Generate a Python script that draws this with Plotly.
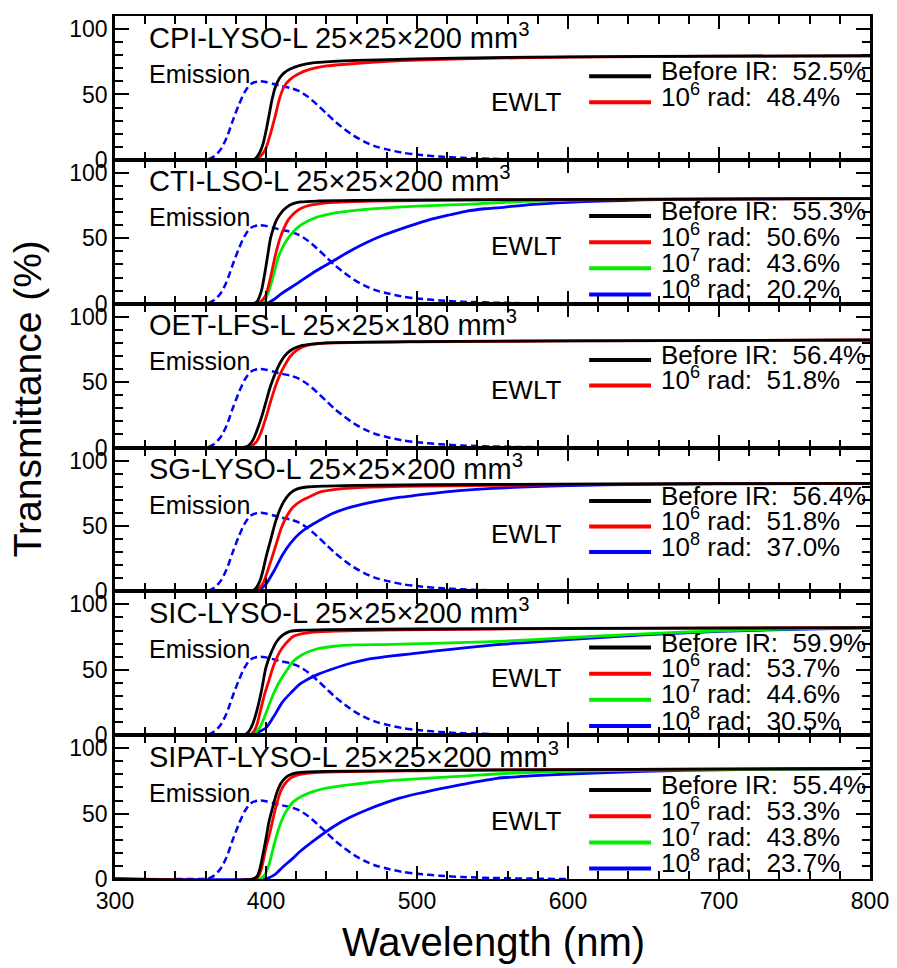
import plotly.graph_objects as go
from plotly.subplots import make_subplots

FONT = "Arial, 'Liberation Sans', Helvetica, sans-serif"

# ---------------- data ----------------
# LYSO emission spectrum (dashed blue, same in every panel)
em_nm = [340, 356, 362, 366, 370, 374, 378, 382, 386, 390, 395, 400, 405, 410, 416, 422, 428,
         434, 440, 446, 452, 458, 465, 472, 480, 490, 500, 515, 530, 550, 575, 600]
em_val = [0, 0, 0.5, 3, 8, 17, 30, 42, 52, 58, 60, 59.5, 58, 56.5, 55, 52.5, 48,
          42, 35.5, 29, 23.5, 18.5, 14, 10.5, 8, 5.5, 4, 2.5, 1.5, 0.8, 0.3, 0]

# Panel 1: CPI-LYSO-L
cpi_before_nm = [300, 390, 393, 396, 398, 400, 402, 404, 406, 409, 412, 416, 422, 430, 445, 460, 500, 550, 600, 700, 800]
cpi_before = [0, 0, 1, 6, 12, 22, 34, 46, 55, 62.5, 66.5, 69.5, 72, 74, 75.3, 76, 77.2, 78.2, 78.8, 79.3, 79.6]
cpi_1e6_nm = [300, 392, 395, 398, 400, 403, 406, 409, 412, 416, 422, 430, 440, 455, 470, 490, 530, 600, 700, 800]
cpi_1e6 = [0, 0, 1.5, 5, 9, 20, 33, 47, 56, 61.5, 66, 69.5, 71.8, 73.3, 74.5, 75.8, 77.3, 78.5, 79.2, 79.5]

# Panel 2: CTI-LSO-L
cti_before_nm = [300, 391, 394, 397, 399, 401, 403, 405, 407, 410, 414, 418, 423, 435, 460, 550, 700, 800]
cti_before = [0, 0, 1.5, 10, 22, 36, 50, 58, 64, 69.5, 74, 76.5, 77.8, 78.5, 79, 79.5, 80, 80.4]
cti_1e6_nm = [300, 394, 397, 400, 403, 406, 409, 412, 415, 419, 423, 430, 445, 470, 550, 700, 800]
cti_1e6 = [0, 0, 2, 7, 20, 36, 49, 58, 64.5, 69.5, 72.8, 75.5, 77.5, 78.5, 79.3, 80, 80.4]
cti_1e7_nm = [300, 396, 399, 402, 405, 408, 411, 414, 418, 423, 428, 434, 445, 456, 470, 490, 510, 533, 555, 580, 620, 700, 800]
cti_1e7 = [0, 0, 2, 10, 22, 35, 43, 49, 55, 60, 63.5, 66.3, 69.3, 71, 72.5, 74, 75, 76, 77.3, 78.5, 79.5, 80.2, 80.5]
cti_1e8_nm = [300, 398, 401, 405, 410, 416, 422, 433, 445, 456, 467, 478, 489, 500, 511, 522, 533, 545, 555, 575, 600, 621, 650, 690, 800]
cti_1e8 = [0, 0, 0.5, 3, 7.5, 12, 16.5, 25, 33, 40.5, 47, 52.5, 57, 61.2, 65, 68, 70.8, 72.6, 73.5, 75.8, 77.5, 78.4, 79.3, 80, 80.5]

# Panel 3: OET-LFS-L
oet_before_nm = [300, 385, 388, 391, 394, 397, 400, 403, 407, 410, 414, 418, 423, 430, 440, 500, 600, 800]
oet_before = [0, 0, 1, 5, 13, 23, 35, 47, 59, 66, 72, 75.5, 77.7, 79, 80, 81, 81.6, 82.2]
oet_1e6_nm = [300, 388, 391, 394, 397, 400, 403, 406, 409, 412, 416, 420, 425, 432, 440, 500, 600, 800]
oet_1e6 = [0, 0, 1.5, 5, 12.5, 23, 35, 46, 55, 62, 69.5, 74, 77.2, 79, 79.8, 80.8, 81.5, 82.2]

# Panel 4: SG-LYSO-L
sg_before_nm = [300, 390, 393, 396, 398, 400, 403, 406, 409, 412, 416, 420, 427, 440, 460, 550, 700, 800]
sg_before = [0, 0, 2, 8, 16, 26, 39, 52, 62, 69, 75, 78, 79.8, 80.5, 81, 81.8, 82.3, 82.5]
sg_1e6_nm = [300, 392, 395, 398, 400, 404, 407, 410, 414, 418, 423, 430, 436, 446, 456, 490, 550, 650, 800]
sg_1e6 = [0, 0, 2, 6, 12, 26, 37, 48, 58, 64.5, 69, 73, 76, 78, 79, 80.2, 81, 82, 82.5]
sg_1e8_nm = [300, 393, 396, 400, 405, 411, 416, 422, 428, 434, 444, 455, 467, 478, 489, 500, 511, 528, 550, 600, 650, 700, 800]
sg_1e8 = [0, 0, 1.5, 5.5, 15, 28, 36.5, 44, 49.3, 53.3, 59.5, 64, 67.5, 70, 72, 73.5, 75, 77, 78.8, 80.8, 81.8, 82.3, 82.5]

# Panel 5: SIC-LYSO-L
sic_before_nm = [300, 385, 388, 391, 394, 397, 400, 403, 407, 411, 416, 425, 440, 500, 600, 800]
sic_before = [0, 0, 2, 8, 19, 34, 52, 62, 71.5, 76.5, 79.4, 80.3, 80.7, 81.2, 81.7, 82.2]
sic_1e6_nm = [300, 389, 392, 394, 396, 399, 402, 405, 409, 413, 418, 425, 434, 460, 490, 600, 800]
sic_1e6 = [0, 0, 3, 8, 17, 31, 42, 53, 63.5, 70, 75.5, 77.8, 79, 80, 80.6, 81.5, 82.2]
sic_1e7_nm = [300, 390, 393, 396, 400, 404, 409, 414, 418, 424, 429, 436, 445, 460, 478, 511, 555, 600, 650, 700, 750, 800]
sic_1e7 = [0, 0, 2, 6, 17, 29, 41, 50, 56.5, 61.5, 64.2, 66.5, 68, 69, 69.3, 70.2, 71.8, 74.5, 77.5, 79.8, 81.3, 82]
sic_1e8_nm = [300, 388, 392, 396, 400, 405, 411, 417, 422, 428, 434, 445, 456, 467, 478, 489, 500, 511, 533, 553, 575, 600, 650, 700, 750, 800]
sic_1e8 = [0, 0, 1, 3, 5.5, 14, 25.5, 33, 38.7, 43, 46.3, 51, 55, 58, 59.8, 61.3, 62.8, 64.2, 67, 69.2, 71, 73, 76.7, 79.3, 81, 82]

# Panel 6: SIPAT-LYSO-L
sipat_before_nm = [300, 391, 394, 396, 398, 400, 402, 404, 407, 410, 414, 418, 423, 440, 500, 600, 800]
sipat_before = [0, 0, 2, 8, 19, 31, 44, 53, 65.5, 73.5, 78.5, 80.6, 81.6, 82.3, 83, 83.7, 84.5]
sipat_1e6_nm = [300, 392, 395, 397, 400, 402.5, 405, 407, 409.5, 412, 416, 420, 427, 440, 500, 600, 800]
sipat_1e6 = [0, 0, 2, 8, 24, 35, 47.8, 57, 66.5, 72, 77, 79.3, 80.8, 81.8, 82.8, 83.7, 84.5]
sipat_1e7_nm = [300, 396, 399, 402, 405, 408, 411.5, 414, 418, 424, 431, 440, 455, 470, 489, 510, 533, 555, 600, 650, 800]
sipat_1e7 = [0, 0, 3, 11, 24.8, 37, 47.8, 53, 59, 63.5, 66.8, 69.5, 72, 74, 75.8, 77.3, 78.9, 80.5, 82.3, 83.3, 84.5]
sipat_1e8_nm = [300, 399, 402, 406, 411.5, 417, 422.5, 433, 444.6, 455, 467, 478, 489, 500, 511, 522, 533, 543, 553, 575, 600, 650, 700, 800]
sipat_1e8 = [0, 0, 1, 3.5, 9.6, 15, 21, 30.5, 40, 46.8, 53, 57.8, 62, 65.2, 68, 70.5, 73, 75, 77, 78.8, 80.3, 82.3, 83.5, 84.5]

# Labels
panel_titles = ["CPI-LYSO-L 25×25×200 mm<sup>3</sup>",
                "CTI-LSO-L 25×25×200 mm<sup>3</sup>",
                "OET-LFS-L 25×25×180 mm<sup>3</sup>",
                "SG-LYSO-L 25×25×200 mm<sup>3</sup>",
                "SIC-LYSO-L 25×25×200 mm<sup>3</sup>",
                "SIPAT-LYSO-L 25×25×200 mm<sup>3</sup>"]
dose_labels = {"before": "Before IR:", "1e6": "10<sup>6</sup> rad:",
               "1e7": "10<sup>7</sup> rad:", "1e8": "10<sup>8</sup> rad:"}
ewlt_cpi = [52.5, 48.4]
ewlt_cti = [55.3, 50.6, 43.6, 20.2]
ewlt_oet = [56.4, 51.8]
ewlt_sg = [56.4, 51.8, 37.0]
ewlt_sic = [59.9, 53.7, 44.6, 30.5]
ewlt_sipat = [55.4, 53.3, 43.8, 23.7]

# ---------------- styling ----------------
COLORS = {"before": "#000000", "1e6": "#ff0000", "1e7": "#00ee00", "1e8": "#0000ff"}
TEXT_SHIFT = {"before": 5, "1e6": 7, "1e7": 7, "1e8": 7}

panels = [
    (panel_titles[0], [("before", cpi_before_nm, cpi_before), ("1e6", cpi_1e6_nm, cpi_1e6)], ewlt_cpi, [64, 44]),
    (panel_titles[1], [("before", cti_before_nm, cti_before), ("1e6", cti_1e6_nm, cti_1e6),
                       ("1e7", cti_1e7_nm, cti_1e7), ("1e8", cti_1e8_nm, cti_1e8)], ewlt_cti, [67, 47, 27, 7]),
    (panel_titles[2], [("before", oet_before_nm, oet_before), ("1e6", oet_1e6_nm, oet_1e6)], ewlt_oet, [67, 47.5]),
    (panel_titles[3], [("before", sg_before_nm, sg_before), ("1e6", sg_1e6_nm, sg_1e6),
                       ("1e8", sg_1e8_nm, sg_1e8)], ewlt_sg, [69, 49.5, 30]),
    (panel_titles[4], [("before", sic_before_nm, sic_before), ("1e6", sic_1e6_nm, sic_1e6),
                       ("1e7", sic_1e7_nm, sic_1e7), ("1e8", sic_1e8_nm, sic_1e8)], ewlt_sic, [67, 47, 27, 7]),
    (panel_titles[5], [("before", sipat_before_nm, sipat_before), ("1e6", sipat_1e6_nm, sipat_1e6),
                       ("1e7", sipat_1e7_nm, sipat_1e7), ("1e8", sipat_1e8_nm, sipat_1e8)], ewlt_sipat, [68, 48, 28, 8]),
]

fig = make_subplots(rows=6, cols=1, shared_xaxes=True, vertical_spacing=0)

for i, (title, series, ewlt, rows_y) in enumerate(panels):
    r = i + 1
    fig.add_trace(go.Scatter(x=em_nm, y=em_val, mode="lines",
                             line=dict(color="#0000ff", width=2.5, dash="7px,4px", shape="spline", smoothing=0.8),
                             name="Emission", showlegend=False), row=r, col=1)
    # draw damaged ones first so "Before IR" sits on top like the original
    for key, xs, ys in reversed(series):
        fig.add_trace(go.Scatter(x=xs, y=ys, mode="lines",
                                 line=dict(color=COLORS[key], width=2.8, shape="spline", smoothing=0.7),
                                 name=dose_labels[key], showlegend=False), row=r, col=1)

    xref = "x" if r == 1 else f"x{r}"
    yref = "y" if r == 1 else f"y{r}"
    fig.add_annotation(x=321, y=95, xref=xref, yref=yref, text=title, showarrow=False,
                       xanchor="left", yanchor="middle", font=dict(size=29, color="black", family=FONT))
    fig.add_annotation(x=321, y=66, xref=xref, yref=yref, text="Emission", showarrow=False,
                       xanchor="left", yanchor="middle", font=dict(size=25, color="black", family=FONT))
    fig.add_annotation(x=597, y=44, xref=xref, yref=yref, text="EWLT", showarrow=False,
                       xanchor="right", yanchor="middle", font=dict(size=26, color="black", family=FONT))
    for (key, xs, ys), val, yy in zip(series, ewlt, rows_y):
        fig.add_shape(type="line", x0=614, x1=655, y0=yy, y1=yy, xref=xref, yref=yref,
                      line=dict(color=COLORS[key], width=4))
        fig.add_annotation(x=660, y=yy, xref=xref, yref=yref, yshift=TEXT_SHIFT[key],
                           text=f"{dose_labels[key]}  {val:.1f}%", showarrow=False,
                           xanchor="left", yanchor="middle", font=dict(size=26, color="black", family=FONT))

    fig.update_xaxes(range=[300, 800], row=r, col=1, showline=True, linecolor="black", linewidth=2,
                     mirror="ticks", ticks="inside", ticklen=13, tickwidth=2, tickcolor="black",
                     tick0=300, dtick=100, showgrid=False, zeroline=False, ticklabeloverflow="allow",
                     minor=dict(ticks="inside", ticklen=8, tickwidth=2, tickcolor="black", dtick=20, tick0=300),
                     tickfont=dict(size=23, color="black", family=FONT))
    fig.update_yaxes(range=[0, 110], row=r, col=1, showline=True, linecolor="black", linewidth=2.5,
                     mirror="ticks", ticks="inside", ticklen=14, tickwidth=2, tickcolor="black",
                     tickvals=[0, 50, 100], showgrid=False, zeroline=False,
                     minor=dict(ticks="inside", ticklen=8, tickwidth=2, tickcolor="black", dtick=10, tick0=0),
                     tickfont=dict(size=23, color="black", family=FONT))

fig.add_annotation(x=-0.1166, y=0.557, xref="paper", yref="paper", text="Transmittance (%)",
                   textangle=-90, showarrow=False, xanchor="center", yanchor="middle",
                   font=dict(size=39, color="black", family=FONT))
fig.add_annotation(x=0.5007, y=-0.073, xref="paper", yref="paper", text="Wavelength (nm)",
                   showarrow=False, xanchor="center", yanchor="middle",
                   font=dict(size=40, color="black", family=FONT))

# the page body adds an 8 px margin, so the figure is placed to land on the reference pixels
fig.update_layout(width=889, height=960, margin=dict(l=107, r=27, t=6, b=89),
                  paper_bgcolor="white", plot_bgcolor="white", showlegend=False,
                  font=dict(family=FONT, color="black"))

fig.write_html("out.html")
